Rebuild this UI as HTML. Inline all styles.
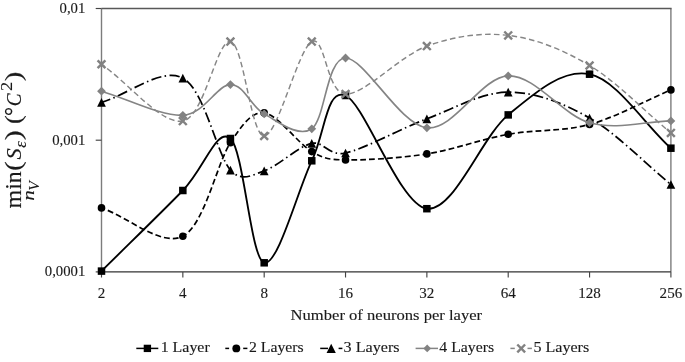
<!DOCTYPE html><html><head><meta charset="utf-8"><title>chart</title><style>html,body{margin:0;padding:0;background:#fff}svg{display:block}text{font-family:"Liberation Serif",serif;fill:#1a1a1a;stroke:#1a1a1a;stroke-width:0.12px}</style></head><body>
<svg width="685" height="362" viewBox="0 0 685 362">
<rect width="685" height="362" fill="#fff"/>
<g fill="none">
<path d="M670.90 8.50 V271.90" stroke="#7c7c7c" stroke-width="1.4"/>
<path d="M101.50 8.50 V271.90" stroke="#7c7c7c" stroke-width="1.4"/>
<path d="M101.50 8.50 H671.60" stroke="#585858" stroke-width="1.3"/>
<path d="M101.50 271.90 H670.90" stroke="#333" stroke-width="1.3"/>
<path d="M95.70 8.50 H101.50" stroke="#444" stroke-width="1.15"/>
<path d="M95.70 140.20 H101.50" stroke="#444" stroke-width="1.15"/>
<path d="M95.70 271.90 H101.50" stroke="#444" stroke-width="1.15"/>
<path d="M101.50 271.90 V277.50" stroke="#444" stroke-width="1.15"/>
<path d="M182.84 271.90 V277.50" stroke="#444" stroke-width="1.15"/>
<path d="M264.19 271.90 V277.50" stroke="#444" stroke-width="1.15"/>
<path d="M345.53 271.90 V277.50" stroke="#444" stroke-width="1.15"/>
<path d="M426.87 271.90 V277.50" stroke="#444" stroke-width="1.15"/>
<path d="M508.21 271.90 V277.50" stroke="#444" stroke-width="1.15"/>
<path d="M589.56 271.90 V277.50" stroke="#444" stroke-width="1.15"/>
<path d="M670.90 271.90 V277.50" stroke="#444" stroke-width="1.15"/>
</g>
<path d="M101.50 271.10 C128.61 244.23 161.36 212.60 182.84 190.50 C204.33 168.40 216.87 126.45 230.43 138.50 C243.98 150.55 250.63 259.08 264.19 262.80 C277.74 266.52 298.21 188.68 311.77 160.80 C325.33 132.92 326.34 87.52 345.53 95.50 C364.71 103.48 399.76 205.47 426.87 208.70 C453.99 211.93 481.10 137.32 508.21 114.90 C535.33 92.48 562.44 68.65 589.56 74.20 C616.67 79.75 643.79 123.53 670.90 148.20" fill="none" stroke="#000" stroke-width="1.85"/>
<rect x="97.75" y="267.35" width="7.50" height="7.50" fill="#000"/>
<rect x="179.09" y="186.75" width="7.50" height="7.50" fill="#000"/>
<rect x="226.68" y="134.75" width="7.50" height="7.50" fill="#000"/>
<rect x="260.44" y="259.05" width="7.50" height="7.50" fill="#000"/>
<rect x="308.02" y="157.05" width="7.50" height="7.50" fill="#000"/>
<rect x="341.78" y="91.75" width="7.50" height="7.50" fill="#000"/>
<rect x="423.12" y="204.95" width="7.50" height="7.50" fill="#000"/>
<rect x="504.46" y="111.15" width="7.50" height="7.50" fill="#000"/>
<rect x="585.81" y="70.45" width="7.50" height="7.50" fill="#000"/>
<rect x="667.15" y="144.45" width="7.50" height="7.50" fill="#000"/>
<path d="M101.50 207.90 C128.61 217.33 161.36 247.07 182.84 236.20 C204.33 225.33 216.87 163.25 230.43 142.70 C242.82 123.91 251.79 111.54 264.19 112.90 C277.74 114.38 298.21 143.77 311.77 151.60 C324.05 158.70 328.15 159.55 345.53 159.90 C364.71 160.28 399.76 158.17 426.87 153.90 C453.99 149.63 481.10 139.22 508.21 134.30 C535.33 129.38 562.44 131.80 589.56 124.40 C616.67 117.00 643.79 101.40 670.90 89.90" fill="none" stroke="#000" stroke-width="1.70" stroke-dasharray="5.8 3.1" stroke-dashoffset="2.0"/>
<circle cx="101.50" cy="207.90" r="3.80" fill="#000"/>
<circle cx="182.84" cy="236.20" r="3.80" fill="#000"/>
<circle cx="230.43" cy="142.70" r="3.80" fill="#000"/>
<circle cx="264.19" cy="112.90" r="3.80" fill="#000"/>
<circle cx="311.77" cy="151.60" r="3.80" fill="#000"/>
<circle cx="345.53" cy="159.90" r="3.80" fill="#000"/>
<circle cx="426.87" cy="153.90" r="3.80" fill="#000"/>
<circle cx="508.21" cy="134.30" r="3.80" fill="#000"/>
<circle cx="589.56" cy="124.40" r="3.80" fill="#000"/>
<circle cx="670.90" cy="89.90" r="3.80" fill="#000"/>
<path d="M101.50 102.40 C128.61 94.30 161.36 66.82 182.84 78.10 C204.33 89.38 216.87 154.63 230.43 170.10 C241.56 182.80 253.06 174.55 264.19 170.90 C277.74 166.45 298.21 146.38 311.77 143.40 C323.90 140.73 328.37 156.67 345.53 153.00 C364.71 148.90 399.76 128.93 426.87 118.80 C453.99 108.67 481.10 92.33 508.21 92.20 C535.33 92.07 562.44 102.62 589.56 118.00 C616.67 133.38 643.79 162.33 670.90 184.50" fill="none" stroke="#000" stroke-width="1.75" stroke-dasharray="10.3 3.4 1.5 3.4" stroke-dashoffset="1.0"/>
<path d="M101.50 98.05 L105.85 106.75 L97.15 106.75 Z" fill="#000"/>
<path d="M182.84 73.75 L187.19 82.45 L178.49 82.45 Z" fill="#000"/>
<path d="M230.43 165.75 L234.78 174.45 L226.08 174.45 Z" fill="#000"/>
<path d="M264.19 166.55 L268.54 175.25 L259.84 175.25 Z" fill="#000"/>
<path d="M311.77 139.05 L316.12 147.75 L307.42 147.75 Z" fill="#000"/>
<path d="M345.53 148.65 L349.88 157.35 L341.18 157.35 Z" fill="#000"/>
<path d="M426.87 114.45 L431.22 123.15 L422.52 123.15 Z" fill="#000"/>
<path d="M508.21 87.85 L512.56 96.55 L503.86 96.55 Z" fill="#000"/>
<path d="M589.56 113.65 L593.91 122.35 L585.21 122.35 Z" fill="#000"/>
<path d="M670.90 180.15 L675.25 188.85 L666.55 188.85 Z" fill="#000"/>
<path d="M101.50 91.20 C128.61 99.23 161.36 116.40 182.84 115.30 C204.33 114.20 216.87 84.83 230.43 84.60 C243.98 84.37 250.63 106.53 264.19 113.90 C277.74 121.27 298.21 138.12 311.77 128.80 C325.33 119.48 326.34 58.17 345.53 58.00 C364.71 57.83 399.76 124.82 426.87 127.80 C453.99 130.78 481.10 76.75 508.21 75.90 C535.33 75.05 562.44 115.20 589.56 122.70 C616.67 130.20 643.79 121.50 670.90 120.90" fill="none" stroke="#848484" stroke-width="1.65"/>
<path d="M101.50 86.80 L105.90 91.20 L101.50 95.60 L97.10 91.20 Z" fill="#828282"/>
<path d="M182.84 110.90 L187.24 115.30 L182.84 119.70 L178.44 115.30 Z" fill="#828282"/>
<path d="M230.43 80.20 L234.83 84.60 L230.43 89.00 L226.03 84.60 Z" fill="#828282"/>
<path d="M264.19 109.50 L268.59 113.90 L264.19 118.30 L259.79 113.90 Z" fill="#828282"/>
<path d="M311.77 124.40 L316.17 128.80 L311.77 133.20 L307.37 128.80 Z" fill="#828282"/>
<path d="M345.53 53.60 L349.93 58.00 L345.53 62.40 L341.13 58.00 Z" fill="#828282"/>
<path d="M426.87 123.40 L431.27 127.80 L426.87 132.20 L422.47 127.80 Z" fill="#828282"/>
<path d="M508.21 71.50 L512.61 75.90 L508.21 80.30 L503.81 75.90 Z" fill="#828282"/>
<path d="M589.56 118.30 L593.96 122.70 L589.56 127.10 L585.16 122.70 Z" fill="#828282"/>
<path d="M670.90 116.50 L675.30 120.90 L670.90 125.30 L666.50 120.90 Z" fill="#828282"/>
<path d="M101.50 64.30 C128.61 83.23 161.36 124.88 182.84 121.10 C204.33 117.32 216.87 39.12 230.43 41.60 C243.98 44.08 250.63 136.00 264.19 136.00 C277.74 136.00 298.21 48.58 311.77 41.60 C325.33 34.62 326.34 93.35 345.53 94.10 C364.71 94.85 399.76 55.88 426.87 46.10 C453.99 36.32 481.10 32.17 508.21 35.40 C535.33 38.63 562.44 49.25 589.56 65.50 C616.67 81.75 643.79 110.43 670.90 132.90" fill="none" stroke="#868686" stroke-width="1.45" stroke-dasharray="5.6 3.273" stroke-dashoffset="1.7"/>
<path d="M97.60 60.40 L105.40 68.20 M97.60 68.20 L105.40 60.40" stroke="#828282" stroke-width="2.45" fill="none"/>
<path d="M178.94 117.20 L186.74 125.00 M178.94 125.00 L186.74 117.20" stroke="#828282" stroke-width="2.45" fill="none"/>
<path d="M226.53 37.70 L234.33 45.50 M226.53 45.50 L234.33 37.70" stroke="#828282" stroke-width="2.45" fill="none"/>
<path d="M260.29 132.10 L268.09 139.90 M260.29 139.90 L268.09 132.10" stroke="#828282" stroke-width="2.45" fill="none"/>
<path d="M307.87 37.70 L315.67 45.50 M307.87 45.50 L315.67 37.70" stroke="#828282" stroke-width="2.45" fill="none"/>
<path d="M341.63 90.20 L349.43 98.00 M341.63 98.00 L349.43 90.20" stroke="#828282" stroke-width="2.45" fill="none"/>
<path d="M422.97 42.20 L430.77 50.00 M422.97 50.00 L430.77 42.20" stroke="#828282" stroke-width="2.45" fill="none"/>
<path d="M504.31 31.50 L512.11 39.30 M504.31 39.30 L512.11 31.50" stroke="#828282" stroke-width="2.45" fill="none"/>
<path d="M585.66 61.60 L593.46 69.40 M585.66 69.40 L593.46 61.60" stroke="#828282" stroke-width="2.45" fill="none"/>
<path d="M667.00 129.00 L674.80 136.80 M667.00 136.80 L674.80 129.00" stroke="#828282" stroke-width="2.45" fill="none"/>
<text transform="translate(85.3 13.3) scale(1.03 1)" font-size="14.3" stroke-width="0.3" text-anchor="end">0,01</text>
<text transform="translate(85.3 145.0) scale(1.03 1)" font-size="14.3" stroke-width="0.3" text-anchor="end">0,001</text>
<text transform="translate(85.3 276.3) scale(1.03 1)" font-size="14.3" stroke-width="0.3" text-anchor="end">0,0001</text>
<text transform="translate(101.50 298.2) scale(1.055 1)" font-size="14.3" stroke-width="0.3" text-anchor="middle">2</text>
<text transform="translate(182.84 298.2) scale(1.055 1)" font-size="14.3" stroke-width="0.3" text-anchor="middle">4</text>
<text transform="translate(264.19 298.2) scale(1.055 1)" font-size="14.3" stroke-width="0.3" text-anchor="middle">8</text>
<text transform="translate(345.53 298.2) scale(1.055 1)" font-size="14.3" stroke-width="0.3" text-anchor="middle">16</text>
<text transform="translate(426.87 298.2) scale(1.055 1)" font-size="14.3" stroke-width="0.3" text-anchor="middle">32</text>
<text transform="translate(508.21 298.2) scale(1.055 1)" font-size="14.3" stroke-width="0.3" text-anchor="middle">64</text>
<text transform="translate(589.56 298.2) scale(1.055 1)" font-size="14.3" stroke-width="0.3" text-anchor="middle">128</text>
<text transform="translate(670.90 298.2) scale(1.055 1)" font-size="14.3" stroke-width="0.3" text-anchor="middle">256</text>
<text x="290.6" y="320.1" font-size="13.6" textLength="191.5" lengthAdjust="spacingAndGlyphs">Number of neurons per layer</text>
<path d="M136.30 348.40 H158.30" fill="none" stroke="#000" stroke-width="1.5"/>
<rect x="143.72" y="344.72" width="7.35" height="7.35" fill="#000"/>
<text x="160.70" y="352.4" font-size="13.6" textLength="49.0" lengthAdjust="spacingAndGlyphs">1 Layer</text>
<path d="M225.30 348.40 H229.10" fill="none" stroke="#000" stroke-width="1.5"/>
<path d="M243.20 348.40 H247.40" fill="none" stroke="#000" stroke-width="1.5"/>
<circle cx="236.30" cy="348.40" r="3.95" fill="#000"/>
<text x="249.00" y="352.4" font-size="13.6" textLength="54.6" lengthAdjust="spacingAndGlyphs">2 Layers</text>
<path d="M320.20 348.40 H328.00" fill="none" stroke="#000" stroke-width="1.5"/>
<path d="M338.60 348.40 H342.40" fill="none" stroke="#000" stroke-width="1.5"/>
<path d="M331.20 343.75 L335.85 353.05 L326.55 353.05 Z" fill="#000"/>
<text x="343.60" y="352.4" font-size="13.6" textLength="56.0" lengthAdjust="spacingAndGlyphs">3 Layers</text>
<path d="M415.60 348.40 H438.00" fill="none" stroke="#848484" stroke-width="1.5"/>
<path d="M427.20 344.53 L431.07 348.40 L427.20 352.27 L423.33 348.40 Z" fill="#828282"/>
<text x="439.30" y="352.4" font-size="13.6" textLength="54.8" lengthAdjust="spacingAndGlyphs">4 Layers</text>
<path d="M510.40 348.40 H514.80" fill="none" stroke="#868686" stroke-width="1.5"/>
<path d="M527.50 348.40 H531.90" fill="none" stroke="#868686" stroke-width="1.5"/>
<path d="M517.30 344.50 L525.10 352.30 M517.30 352.30 L525.10 344.50" stroke="#828282" stroke-width="2.45" fill="none"/>
<text x="533.40" y="352.4" font-size="13.6" textLength="55.8" lengthAdjust="spacingAndGlyphs">5 Layers</text>
<text transform="translate(20.50 208.50) rotate(-90) scale(1.1977 1.1885)" font-size="20" stroke-width="0.45">min</text>
<text transform="translate(20.53 170.97) rotate(-90) scale(1.4406 1.1911)" font-size="20" stroke-width="0">(</text>
<text transform="translate(20.90 159.46) rotate(-90) scale(1.1225 1.0195)" font-size="20" font-style="italic">S</text>
<text transform="translate(25.84 147.76) rotate(-90) scale(0.8343 0.8317)" font-size="20" font-style="italic">ε</text>
<text transform="translate(20.53 140.49) rotate(-90) scale(1.5379 1.1911)" font-size="20" stroke-width="0">)</text>
<text transform="translate(20.53 124.06) rotate(-90) scale(1.3238 1.1911)" font-size="20" stroke-width="0">(</text>
<text transform="translate(21.23 115.99) rotate(-90) scale(1.1378 1.2202)" font-size="20">°</text>
<text transform="translate(20.91 106.37) rotate(-90) scale(0.9587 1.0203)" font-size="20" font-style="italic">C</text>
<text transform="translate(12.40 91.11) rotate(-90) scale(0.9230 0.8307)" font-size="20">2</text>
<text transform="translate(20.53 81.33) rotate(-90) scale(1.4406 1.1911)" font-size="20" stroke-width="0">)</text>
<text transform="translate(34.10 200.76) rotate(-90) scale(1.0642 0.7959)" font-size="20" font-style="italic">n</text>
<text transform="translate(38.79 190.71) rotate(-90) scale(0.7789 0.6792)" font-size="20" font-style="italic">V</text>
</svg></body></html>
